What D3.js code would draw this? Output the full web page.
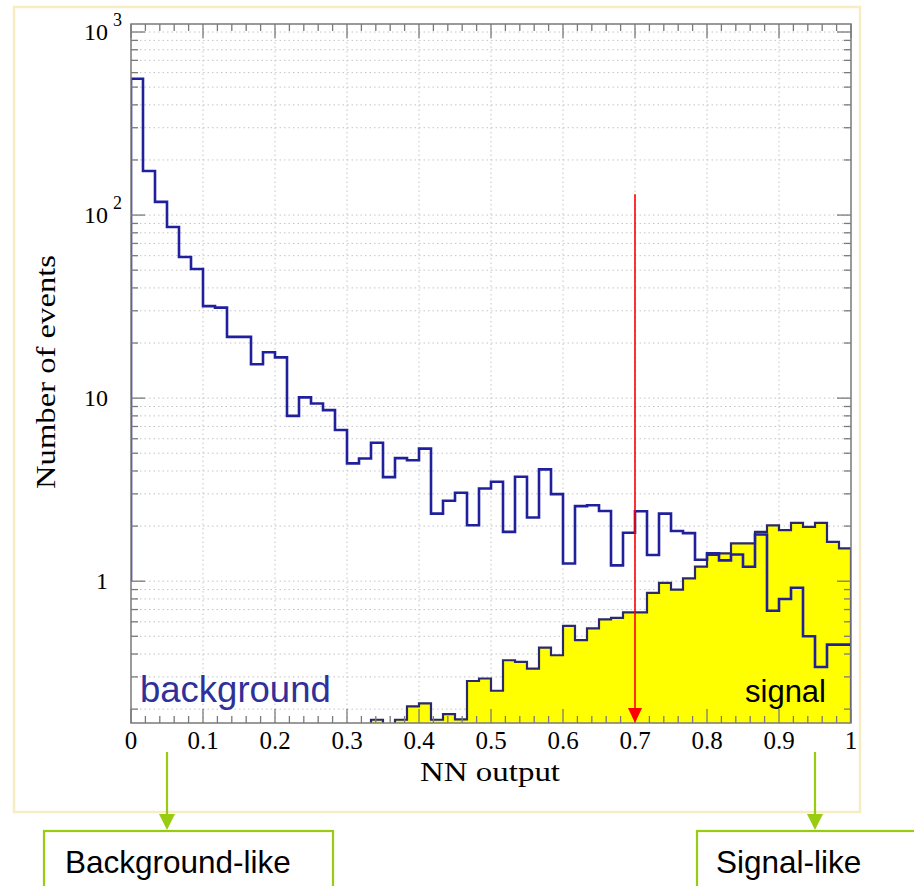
<!DOCTYPE html>
<html>
<head>
<meta charset="utf-8">
<script src="https://cdn.jsdelivr.net/npm/d3@7/dist/d3.min.js"></script>
<style>
  body { margin: 0; background: #fff; }
</style>
</head>
<body>
<div id="chart"></div>
<script>
// Histogram contents, 60 bins on NN output 0..1
const nBins = 60;
const background = [
  556, 174, 118, 86, 59, 50.7, 31.8, 31.2, 21.6, 21.6,
  15.3, 17.8, 16.7, 8.0, 10.1, 9.35, 8.6, 6.7, 4.4, 4.68,
  5.7, 3.7, 4.7, 4.58, 5.3, 2.34, 2.75, 3.04, 2.02, 3.21,
  3.49, 1.86, 3.72, 2.23, 4.08, 2.99, 1.25, 2.57, 2.6, 2.42,
  1.22, 1.84, 2.41, 1.39, 2.34, 1.88, 1.83, 1.31, 1.42, 1.30,
  1.40, 1.20, 1.80, 0.69, 0.80, 0.92, 0.50, 0.34, 0.45, 0.45
];
const signal = [
  0, 0, 0, 0, 0, 0, 0, 0, 0, 0,
  0, 0, 0, 0, 0, 0, 0, 0, 0, 0,
  0.175, 0, 0.175, 0.207, 0.215, 0.175, 0.188, 0.176, 0.285, 0.294,
  0.252, 0.37, 0.362, 0.333, 0.434, 0.394, 0.57, 0.476, 0.552, 0.618,
  0.63, 0.675, 0.675, 0.863, 0.979, 0.90, 1.035, 1.20, 1.39, 1.42,
  1.61, 1.61, 1.86, 2.02, 1.90, 2.08, 1.98, 2.08, 1.64, 1.51
];
const xTicks = [0, 0.1, 0.2, 0.3, 0.4, 0.5, 0.6, 0.7, 0.8, 0.9, 1];
const xTickLabels = ["0", "0.1", "0.2", "0.3", "0.4", "0.5", "0.6", "0.7", "0.8", "0.9", "1"];
const yTicks = [1, 10, 100, 1000];
const yTickBase = ["1", "10", "10", "10"];
const yTickExp = ["", "", "2", "3"];
const cutValue = 0.7;
const cutArrowTop = 130;
const yDomain = [0.168, 1106];

const margin = { top: 24, left: 131 };
const width = 720, height = 699;

const svg = d3.select("#chart").append("svg")
    .attr("width", 914)
    .attr("height", 886)
    .style("font-family", "'Liberation Serif', 'DejaVu Serif', serif");

// pale frame of the slide picture
svg.append("rect")
    .attr("x", 14).attr("y", 7)
    .attr("width", 846).attr("height", 805)
    .attr("fill", "#fff")
    .attr("stroke", "#f7ecc4")
    .attr("stroke-width", 2.5);

const g = svg.append("g")
    .attr("transform", `translate(${margin.left},${margin.top})`);

const x = d3.scaleLinear().domain([0, 1]).range([0, width]);
const y = d3.scaleLog().domain(yDomain).range([height, 0]);

g.append("clipPath").attr("id", "plotClip")
  .append("rect").attr("width", width).attr("height", height);

// log minor values inside domain
const minorVals = [];
[0.1, 1, 10, 100, 1000].forEach(d => {
    for (let k = 1; k <= 9; k++) {
        const v = k * d;
        if (v >= yDomain[0] && v <= yDomain[1]) minorVals.push(v);
    }
});

// Grid
const grid = g.append("g").attr("stroke", "#c4c4c4").attr("stroke-width", 1)
    .attr("stroke-dasharray", "1.5,3");
grid.selectAll(".hg").data(minorVals).enter().append("line")
    .attr("x1", 0).attr("x2", width)
    .attr("y1", d => y(d)).attr("y2", d => y(d));
grid.selectAll(".vg").data(xTicks.slice(1, -1)).enter().append("line")
    .attr("y1", 0).attr("y2", height)
    .attr("x1", d => x(d)).attr("x2", d => x(d));

const plot = g.append("g").attr("clip-path", "url(#plotClip)");
const binW = 1 / nBins;
const sigY = v => v > 0 ? y(v) : height + 6;

// Signal, yellow filled
const sigPts = [[x(0), height + 6]];
signal.forEach((v, i) => {
    sigPts.push([x(i * binW), sigY(v)]);
    sigPts.push([x((i + 1) * binW), sigY(v)]);
});
sigPts.push([x(1), height + 6]);
plot.append("path")
    .attr("d", d3.line()(sigPts) + "Z")
    .attr("fill", "#ffff00")
    .attr("stroke", "#2a2a6a")
    .attr("stroke-width", 2.2)
    .attr("stroke-linejoin", "miter");

// Background, blue line
const bgPts = [[x(0), y(1)]];
background.forEach((v, i) => {
    bgPts.push([x(i * binW), y(v)]);
    bgPts.push([x((i + 1) * binW), y(v)]);
});
plot.append("path")
    .attr("d", d3.line()(bgPts))
    .attr("fill", "none")
    .attr("stroke", "#20209c")
    .attr("stroke-width", 2.6);

// Frame and ticks
const axisCol = "#7a7a7a";
g.append("rect").attr("width", width).attr("height", height)
    .attr("fill", "none").attr("stroke", axisCol).attr("stroke-width", 1.5);

const xMinor = d3.range(0, 1.0001, 0.02);
const tk = g.append("g").attr("stroke", axisCol).attr("stroke-width", 1.3);
xMinor.forEach(v => {
    const major = Math.abs(v * 10 - Math.round(v * 10)) < 1e-6;
    const len = major ? 14 : 7;
    tk.append("line").attr("x1", x(v)).attr("x2", x(v)).attr("y1", height).attr("y2", height - len);
    tk.append("line").attr("x1", x(v)).attr("x2", x(v)).attr("y1", 0).attr("y2", len);
});
minorVals.forEach(v => {
    const major = yTicks.includes(v);
    const len = major ? 14 : 7;
    tk.append("line").attr("x1", 0).attr("x2", len).attr("y1", y(v)).attr("y2", y(v));
    tk.append("line").attr("x1", width).attr("x2", width - len).attr("y1", y(v)).attr("y2", y(v));
});

// X tick labels
g.selectAll(".xl").data(xTicks).enter().append("text")
    .attr("x", d => x(d))
    .attr("y", height + 26)
    .attr("text-anchor", "middle")
    .style("font-size", "25px")
    .attr("fill", "#000")
    .text((d, i) => xTickLabels[i]);

// Y tick labels with exponent
yTicks.forEach((v, i) => {
    g.append("text")
        .attr("x", -23).attr("y", y(v) + 8)
        .attr("text-anchor", "end")
        .style("font-size", "24px")
        .attr("fill", "#000")
        .text(yTickBase[i]);
    if (yTickExp[i]) {
        g.append("text")
            .attr("x", -18).attr("y", y(v) - 6)
            .style("font-size", "18px")
            .attr("fill", "#000")
            .text(yTickExp[i]);
    }
});

// Axis titles
svg.append("text")
    .attr("x", 490).attr("y", 781)
    .attr("text-anchor", "middle")
    .attr("textLength", 140).attr("lengthAdjust", "spacingAndGlyphs")
    .style("font-size", "27px")
    .attr("fill", "#000")
    .text("NN output");

svg.append("text")
    .attr("transform", "translate(55,372) rotate(-90)")
    .attr("text-anchor", "middle")
    .attr("textLength", 234).attr("lengthAdjust", "spacingAndGlyphs")
    .style("font-size", "28px")
    .attr("fill", "#000")
    .text("Number of events");

// Cut arrow
const ax = x(cutValue);
g.append("line")
    .attr("x1", ax).attr("x2", ax)
    .attr("y1", y(cutArrowTop)).attr("y2", height - 14)
    .attr("stroke", "#ff0000").attr("stroke-width", 1.6);
g.append("path")
    .attr("d", `M${ax - 7},${height - 15} L${ax + 7},${height - 15} L${ax},${height} Z`)
    .attr("fill", "#ff0000");

// In-plot labels
svg.append("text")
    .attr("x", 140).attr("y", 702)
    .style("font-family", "'Liberation Sans', Arial, sans-serif")
    .style("font-size", "36.5px")
    .attr("fill", "#30309a")
    .text("background");
svg.append("text")
    .attr("x", 745).attr("y", 702)
    .style("font-family", "'Liberation Sans', Arial, sans-serif")
    .style("font-size", "31px")
    .attr("fill", "#000")
    .text("signal");

// Green pointers to boxes below
const green = "#99cc11";
const boxes = [
    { v: 0.05, label: "Background-like", bx: 44, bw: 289, tx: 65 },
    { v: 0.95, label: "Signal-like", bx: 697, bw: 240, tx: 716 }
];
boxes.forEach(b => {
    const px = margin.left + x(b.v);
    svg.append("line")
        .attr("x1", px).attr("x2", px)
        .attr("y1", 752).attr("y2", 816)
        .attr("stroke", green).attr("stroke-width", 2.2);
    svg.append("path")
        .attr("d", `M${px - 8},${814} L${px + 8},${814} L${px},${830} Z`)
        .attr("fill", green);
    svg.append("rect")
        .attr("x", b.bx).attr("y", 831)
        .attr("width", b.bw).attr("height", 80)
        .attr("fill", "#fff")
        .attr("stroke", green).attr("stroke-width", 2.2);
    svg.append("text")
        .attr("x", b.tx).attr("y", 873)
        .style("font-family", "'Liberation Sans', Arial, sans-serif")
        .style("font-size", "31.5px")
        .attr("fill", "#000")
        .text(b.label);
});
</script>
</body>
</html>
